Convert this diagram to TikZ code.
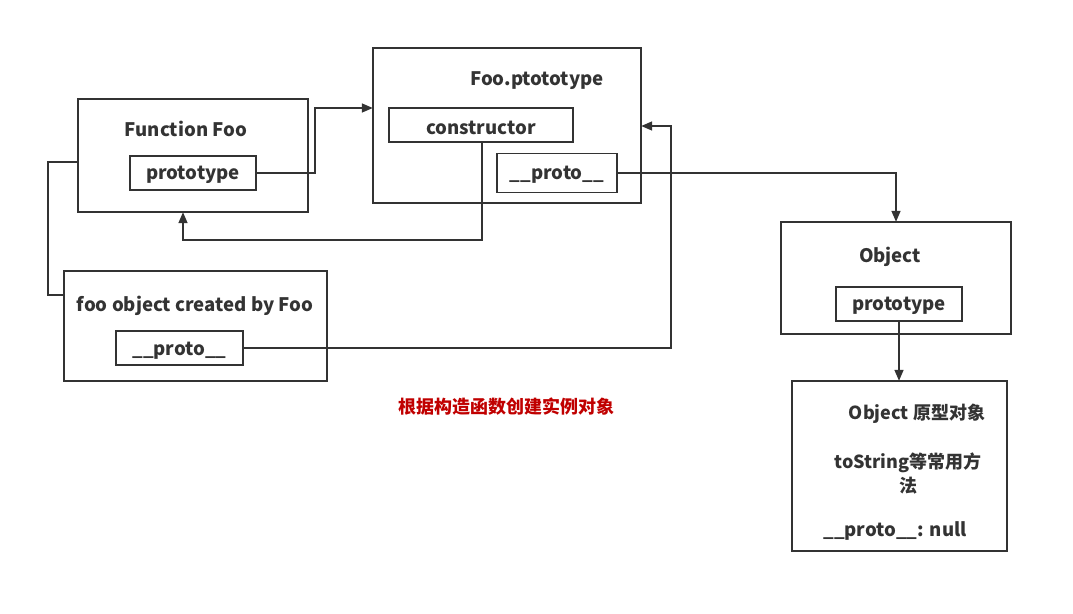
\documentclass[tikz,border=0pt]{standalone}
\usepackage{fontspec}
\setmainfont{Noto Sans CJK SC}
\usetikzlibrary{arrows.meta}
\definecolor{ink}{HTML}{333333}
\definecolor{redtxt}{HTML}{C00000}
\tikzset{
  box/.style={draw=ink, line width=1.8pt, minimum width=0pt, inner sep=0pt},
  lab/.style={text=ink, font=\fontsize{18.6}{22}\selectfont\bfseries, inner sep=0pt, yshift=-1.5pt},
  cjk/.style={lab, font=\fontsize{18}{22}\selectfont\bfseries},
  conn/.style={draw=ink, line width=1.6pt},
  arr/.style={conn, -{Triangle[length=11pt,width=9pt]}},
}
\begin{document}
\begin{tikzpicture}[x=1pt,y=-1pt]
\useasboundingbox (0,0) rectangle (1073,613);
% boxes
\draw[box] (78,99) rectangle (308,212);
\node[box, minimum width=126pt, minimum height=34pt] (ffp) at (193,173) {};
\draw[box] (373,48) rectangle (641,203);
\node[box, minimum width=184pt, minimum height=34pt] (ctor) at (481,125) {};
\node[box, minimum width=120pt, minimum height=39pt] (fpp) at (557,173) {};
\draw[box] (781,222) rectangle (1011,334);
\node[box, minimum width=126pt, minimum height=34pt] (op) at (899,304) {};
\draw[box] (792,381) rectangle (1007,551);
\draw[box] (64,271) rectangle (327,381);
\node[box, minimum width=127pt, minimum height=34pt] (fop) at (179.5,348) {};
% named anchor nodes for big boxes
\node[inner sep=0, minimum width=230pt, minimum height=113pt] (FF) at (193,155.5) {};
\node[inner sep=0, minimum width=268pt, minimum height=155pt] (FP) at (507,125.5) {};
\node[inner sep=0, minimum width=230pt, minimum height=112pt] (OB) at (896,278) {};
\node[inner sep=0, minimum width=215pt, minimum height=170pt] (OP) at (899.5,466) {};
\node[inner sep=0, minimum width=263pt, minimum height=110pt] (FO) at (195.5,326) {};
% labels
\node[lab] at (186,127) {Function Foo};
\node[lab] at (193,173) {prototype};
\node[lab] at (537,79) {Foo.ptototype};
\node[lab] at (481,126) {constructor};
\node[lab] at (557,173) {\_\_proto\_\_};
\node[lab] at (890,255) {Object};
\node[lab] at (899,304) {prototype};
\node[lab] at (195,304) {foo object created by Foo};
\node[lab] at (179.5,349) {\_\_proto\_\_};
\node[cjk] at (917,412) {Object 原型对象};
\node[cjk] at (908,461) {toString等常用方};
\node[cjk] at (908,484) {法};
\node[lab] at (895,529) {\_\_proto\_\_: null};
\node[cjk, text=redtxt] at (506,405) {根据构造函数创建实例对象};
% connectors
\draw[arr] (ffp.east) -- (315,173) -- (315,108) -- (FP.west |- 0,108);
\draw[arr] (ctor.south -| 482,0) -- (482,240) -- (183,240) -- (FF.south -| 183,0);
\draw[arr] (fpp.east) -- (896,173) -- (OB.north -| 896,0);
\draw[arr] (op.south) -- (OP.north -| op.south);
\draw[arr] (fop.east) -- (671,348) -- (671,126) -- (FP.east |- 0,126);
\draw[conn] (FF.west |- 0,162) -- (48,162) -- (48,295) -- (FO.west |- 0,295);
\end{tikzpicture}
\end{document}
